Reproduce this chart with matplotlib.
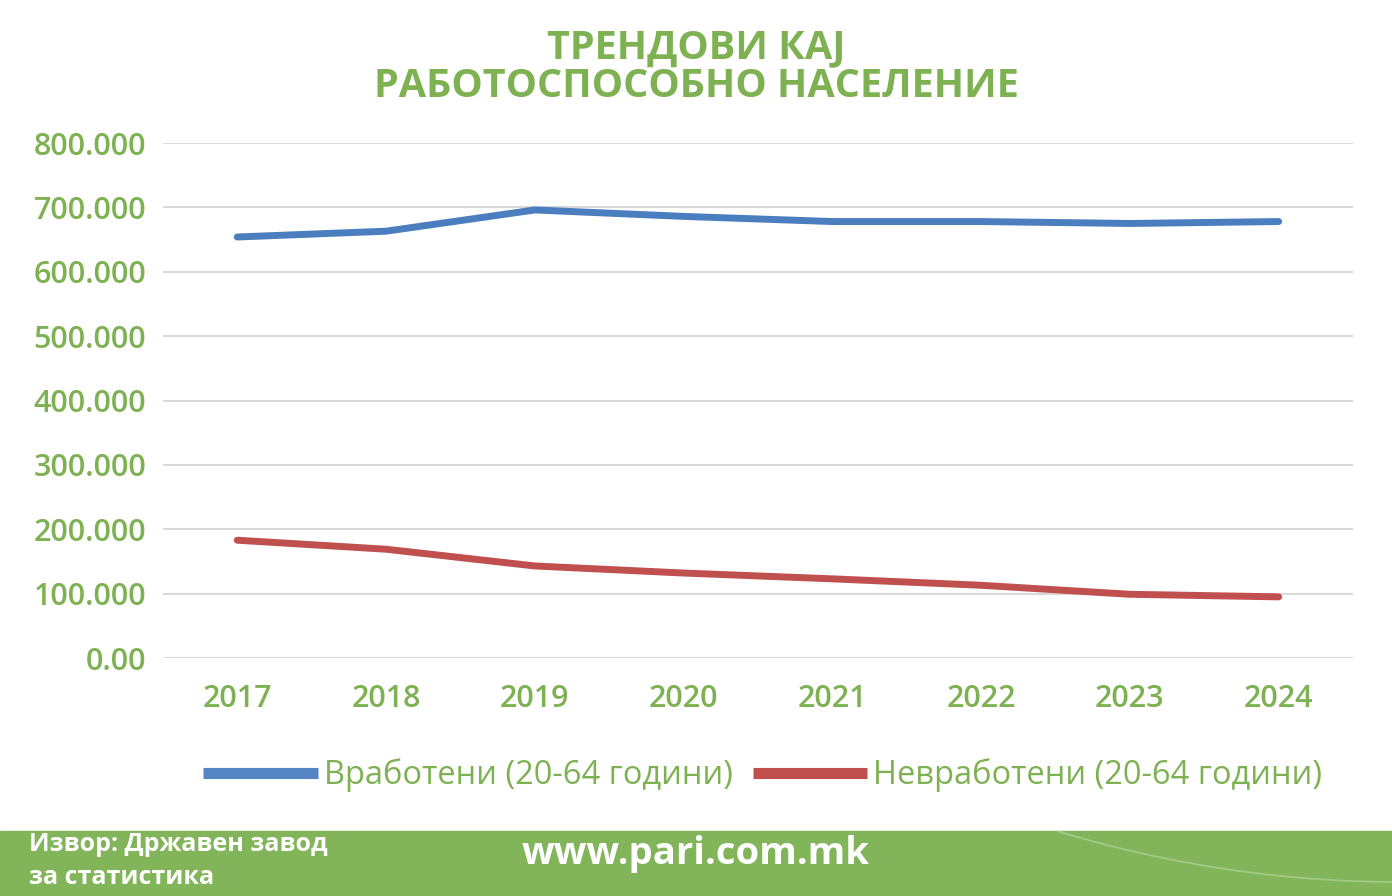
import numpy as np
import matplotlib.pyplot as plt
from matplotlib.patches import Rectangle, Arc

# Data
years = ["2017", "2018", "2019", "2020", "2021", "2022", "2023", "2024"]
employed = [654000, 663000, 696000, 686000, 678000, 678000, 675000, 678000]
unemployed = [183000, 169000, 143000, 132000, 123000, 113000, 99000, 95000]
yticks = [0, 100000, 200000, 300000, 400000, 500000, 600000, 700000, 800000]
ytick_labels = ["0.00", "100.000", "200.000", "300.000", "400.000",
                "500.000", "600.000", "700.000", "800.000"]

green = "#7DB152"
blue = "#4A7EBF"
red = "#C0504D"

plt.rcParams['font.family'] = ['Open Sans', 'DejaVu Sans']

fig = plt.figure(figsize=(13.92, 8.96), dpi=100)
ax = fig.add_axes([0.117, 0.2656, 0.855, 0.5748])

x = np.arange(len(years))
l1, = ax.plot(x, employed, color=blue, lw=5, solid_capstyle='round',
              solid_joinstyle='round', clip_on=False,
              label="Вработени (20-64 години)")
l2, = ax.plot(x, unemployed, color=red, lw=5, solid_capstyle='round',
              solid_joinstyle='round', clip_on=False,
              label="Невработени (20-64 години)")

ax.set_xlim(-0.5, len(years) - 0.5)
ax.set_ylim(0, 800000)
ax.set_yticks(yticks)
ax.set_yticklabels(ytick_labels)
ax.set_xticks(x)
ax.set_xticklabels(years)
ax.grid(axis='y', color='#D9D9D9', lw=1.5)
ax.set_axisbelow(True)
for s in ax.spines.values():
    s.set_visible(False)
ax.tick_params(length=0, labelsize=22, labelcolor=green)
ax.tick_params(axis='y', pad=12)
ax.tick_params(axis='x', pad=19)
for t in ax.get_xticklabels() + ax.get_yticklabels():
    t.set_fontweight('semibold')

# Title
fig.text(0.5, 0.947, "ТРЕНДОВИ КАЈ", ha='center', va='center',
         fontsize=28.5, fontweight='bold', color=green)
fig.text(0.5, 0.903, "РАБОТОСПОСОБНО НАСЕЛЕНИЕ", ha='center', va='center',
         fontsize=28.5, fontweight='bold', color=green)

# Legend
leg = fig.legend(handles=[l1, l2], loc='center', bbox_to_anchor=(0.548, 0.135),
                 ncol=2, frameon=False, fontsize=23.5, handlelength=3.5,
                 handletextpad=0.2, columnspacing=0.6)
for t in leg.get_texts():
    t.set_color(green)
leg.get_lines()[0].set_color("#5585C5")
for h in leg.get_lines():
    h.set_linewidth(8)
    h.set_solid_capstyle('butt')

# Footer band with a faint decorative arc
band = Rectangle((0, 0), 1, 65 / 896, transform=fig.transFigure,
                 color="#82B45A", zorder=0)
fig.patches.append(band)
arc = Arc((14.0, 11.94), 23.6, 23.6, theta1=253.1, theta2=275,
          transform=fig.dpi_scale_trans, color="#A6CA87", lw=1.2, zorder=1)
fig.patches.append(arc)
fig.text(0.021, 0.057, "Извор: Државен завод", ha='left', va='center',
         fontsize=18, fontweight='bold', color='white')
fig.text(0.021, 0.021, "за статистика", ha='left', va='center',
         fontsize=18, fontweight='bold', color='white')
fig.text(0.5, 0.047, "www.pari.com.mk", ha='center', va='center',
         fontsize=27.5, fontweight='bold', color='white')

fig.savefig("out.png", dpi=100)
